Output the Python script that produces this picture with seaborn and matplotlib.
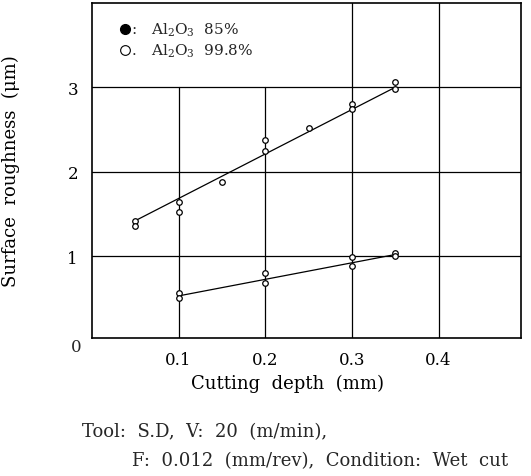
import matplotlib
matplotlib.use("Agg")
import matplotlib.pyplot as plt
import seaborn as sns
import pandas as pd

# ---- data ----
depth_upper = [0.05, 0.05, 0.10, 0.10, 0.15, 0.20, 0.20, 0.25, 0.30, 0.30, 0.35, 0.35]
rough_upper = [1.42, 1.36, 1.64, 1.52, 1.88, 2.38, 2.25, 2.52, 2.80, 2.74, 3.06, 2.98]
depth_lower = [0.10, 0.10, 0.20, 0.20, 0.30, 0.30, 0.35, 0.35]
rough_lower = [0.56, 0.51, 0.80, 0.68, 0.99, 0.89, 1.04, 1.00]
fit_upper_x = [0.05, 0.35]
fit_upper_y = [1.42, 3.00]
fit_lower_x = [0.10, 0.35]
fit_lower_y = [0.53, 1.02]
x_ticks = [0.1, 0.2, 0.3, 0.4]
x_tick_labels = ["0.1", "0.2", "0.3", "0.4"]
y_ticks = [1, 2, 3]
y_tick_labels = ["1", "2", "3"]
legend_labels = [r"Al$_2$O$_3$  85%", r"Al$_2$O$_3$  99.8%"]

sns.set_theme(style="white")
plt.rcParams["font.family"] = ["DejaVu Serif", "DejaVu Sans"]
plt.rcParams["mathtext.fontset"] = "dejavuserif"

fig = plt.figure(figsize=(5.31, 4.77), dpi=100)
ax = fig.add_axes([0.173, 0.289, 0.808, 0.703])

pts = pd.DataFrame({"x": depth_upper + depth_lower, "y": rough_upper + rough_lower})
fit_u = pd.DataFrame({"x": fit_upper_x, "y": fit_upper_y})
fit_l = pd.DataFrame({"x": fit_lower_x, "y": fit_lower_y})

# grid lines
for yv in y_ticks:
    ax.axhline(yv, color="black", lw=0.9, zorder=1)
for xv in x_ticks:
    top = 3 if xv < 0.25 else 4.0
    ax.plot([xv, xv], [0, top], color="black", lw=0.9, zorder=1)

sns.lineplot(data=fit_u, x="x", y="y", ax=ax, color="black", lw=0.9, zorder=2)
sns.lineplot(data=fit_l, x="x", y="y", ax=ax, color="black", lw=0.9, zorder=2)
sns.scatterplot(data=pts, x="x", y="y", ax=ax, s=16, marker="o",
                facecolor="white", edgecolor="black", linewidth=0.9, zorder=3)

ax.set_xlim(0, 0.495)
ax.set_ylim(0.03, 4.0)
ax.set_xticks(x_ticks)
ax.set_xticklabels(x_tick_labels)
ax.set_yticks(y_ticks)
ax.set_yticklabels(y_tick_labels)
ax.tick_params(axis="both", length=0, labelsize=12, colors="black")
ax.tick_params(axis="x", pad=9)
ax.tick_params(axis="y", pad=10)
ax.annotate("0", xy=(0, 0), xycoords="axes fraction", xytext=(-11, -6),
            textcoords="offset points", ha="center", va="center", fontsize=12)

for s in ax.spines.values():
    s.set_color("black")
    s.set_linewidth(1.2)

ax.set_xlabel("Cutting  depth  (mm)", fontsize=13, color="black")
ax.xaxis.set_label_coords(0.457, -0.105)
ax.set_ylabel("Surface  roughness  (\u03bcm)", fontsize=13, color="black")
ax.yaxis.set_label_coords(-0.168, 0.5)

# legend drawn in the plot as in the original
ax.plot([0.077], [0.922], transform=ax.transAxes, marker="o", ms=7,
        color="black", ls="none")
ax.plot([0.077], [0.859], transform=ax.transAxes, marker="o", ms=7,
        mfc="white", mec="black", mew=0.8, ls="none")
ax.text(0.092, 0.922, ":", transform=ax.transAxes,
        fontsize=11, va="center", ha="left")
ax.text(0.092, 0.859, ".", transform=ax.transAxes,
        fontsize=11, va="center", ha="left")
ax.text(0.138, 0.922, legend_labels[0], transform=ax.transAxes,
        fontsize=11, va="center", ha="left")
ax.text(0.138, 0.859, legend_labels[1], transform=ax.transAxes,
        fontsize=11, va="center", ha="left")

fig.text(82 / 531, 1 - 432 / 477, "Tool:  S.D,  V:  20  (m/min),",
         fontsize=13, va="center", ha="left")
fig.text(132 / 531, 1 - 461 / 477, "F:  0.012  (mm/rev),  Condition:  Wet  cut",
         fontsize=13, va="center", ha="left")

fig.savefig("out.png", dpi=100)
